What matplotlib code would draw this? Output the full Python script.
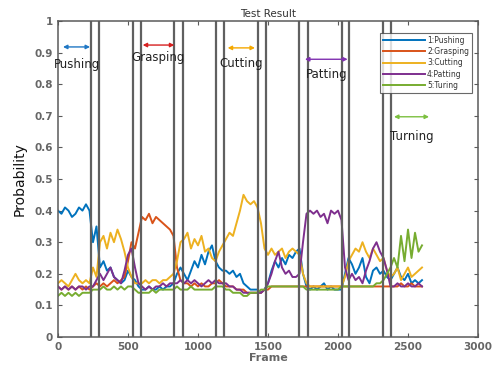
import matplotlib
matplotlib.use("Agg")
import matplotlib.pyplot as plt
import numpy as np

frame_step = 25
pushing = [0.40,0.39,0.41,0.40,0.38,0.39,0.41,0.40,0.42,0.40,
           0.30,0.35,
           0.22,0.24,0.21,0.22,0.19,0.18,0.17,0.18,0.21,0.19,
           0.18,0.16,
           0.15,0.15,0.16,0.15,0.15,0.16,0.15,0.16,0.16,
           0.17,0.20,0.22,
           0.20,0.18,0.21,0.24,0.22,0.26,0.23,0.27,0.29,
           0.24,0.22,0.21,
           0.21,0.20,0.21,0.19,0.20,0.17,0.16,0.15,0.15,0.15,
           0.14,0.15,
           0.17,0.21,0.24,0.22,0.25,0.23,0.26,0.25,0.27,
           0.28,0.20,0.16,
           0.15,0.16,0.15,0.16,0.17,0.15,0.16,0.15,0.15,
           0.15,0.20,0.25,
           0.23,0.20,0.22,0.25,0.19,0.17,0.21,0.22,0.20,
           0.21,0.19,0.18,
           0.20,0.22,0.19,0.18,0.20,0.17,0.18,0.17,0.18]
grasping = [0.16,0.15,0.16,0.15,0.16,0.15,0.16,0.15,0.16,0.15,
            0.16,0.17,
            0.16,0.17,0.16,0.17,0.18,0.17,0.18,0.19,0.24,0.30,
            0.28,0.33,
            0.38,0.37,0.39,0.36,0.38,0.37,0.36,0.35,0.34,
            0.32,0.22,0.18,
            0.17,0.17,0.16,0.17,0.16,0.17,0.16,0.16,0.17,
            0.17,0.18,0.17,
            0.16,0.16,0.16,0.15,0.15,0.15,0.14,0.14,0.14,0.14,
            0.14,0.15,
            0.15,0.16,0.16,0.16,0.16,0.16,0.16,0.16,0.16,
            0.16,0.16,0.16,
            0.16,0.16,0.16,0.16,0.16,0.16,0.16,0.16,0.16,
            0.16,0.16,0.16,
            0.16,0.16,0.16,0.16,0.16,0.16,0.16,0.16,0.16,
            0.16,0.16,0.16,
            0.16,0.16,0.17,0.16,0.16,0.17,0.16,0.16,0.16]
cutting = [0.17,0.18,0.17,0.16,0.18,0.20,0.18,0.17,0.18,0.17,
           0.22,0.19,
           0.30,0.32,0.28,0.33,0.30,0.34,0.31,0.27,0.22,0.19,
           0.17,0.17,
           0.17,0.18,0.17,0.18,0.18,0.17,0.18,0.18,0.19,
           0.20,0.24,0.30,
           0.31,0.33,0.28,0.31,0.29,0.32,0.27,0.28,0.25,
           0.24,0.27,0.29,
           0.31,0.33,0.32,0.36,0.40,0.45,0.43,0.42,0.43,0.41,
           0.36,0.28,
           0.26,0.28,0.26,0.27,0.28,0.25,0.27,0.28,0.27,
           0.26,0.20,0.17,
           0.16,0.16,0.16,0.16,0.16,0.16,0.16,0.16,0.16,
           0.16,0.19,0.24,
           0.26,0.28,0.27,0.30,0.27,0.25,0.28,0.26,0.24,
           0.25,0.21,0.19,
           0.20,0.22,0.18,0.20,0.22,0.19,0.20,0.21,0.22]
patting = [0.16,0.15,0.16,0.15,0.16,0.15,0.16,0.16,0.15,0.16,
           0.16,0.18,
           0.20,0.18,0.20,0.22,0.19,0.18,0.17,0.21,0.26,0.28,
           0.22,0.17,
           0.16,0.15,0.16,0.15,0.16,0.16,0.17,0.16,0.17,
           0.17,0.17,0.18,
           0.17,0.18,0.17,0.18,0.17,0.16,0.17,0.18,0.17,
           0.18,0.17,0.17,
           0.17,0.16,0.16,0.15,0.15,0.14,0.14,0.14,0.14,0.14,
           0.14,0.15,
           0.17,0.20,0.24,0.27,0.22,0.20,0.21,0.19,0.19,
           0.20,0.30,0.39,
           0.40,0.39,0.40,0.38,0.39,0.36,0.40,0.39,0.40,
           0.37,0.22,0.18,
           0.20,0.18,0.19,0.17,0.21,0.24,0.28,0.30,0.27,
           0.25,0.21,0.16,
           0.16,0.17,0.16,0.16,0.17,0.16,0.16,0.17,0.16]
turing = [0.13,0.14,0.13,0.14,0.13,0.14,0.13,0.14,0.14,0.14,
          0.15,0.15,
          0.15,0.16,0.15,0.15,0.16,0.15,0.16,0.15,0.16,0.16,
          0.15,0.14,
          0.14,0.14,0.14,0.15,0.14,0.15,0.15,0.15,0.15,
          0.15,0.16,0.15,
          0.15,0.15,0.16,0.15,0.15,0.15,0.15,0.15,0.15,
          0.16,0.16,0.16,
          0.15,0.15,0.14,0.14,0.14,0.13,0.13,0.14,0.14,0.14,
          0.15,0.15,
          0.16,0.16,0.16,0.16,0.16,0.16,0.16,0.16,0.16,
          0.16,0.16,0.15,
          0.15,0.15,0.15,0.15,0.15,0.15,0.15,0.15,0.15,
          0.16,0.16,0.16,
          0.16,0.16,0.16,0.16,0.16,0.16,0.16,0.17,0.17,
          0.18,0.20,0.22,
          0.25,0.22,0.32,0.24,0.34,0.25,0.33,0.27,0.29]

series_names = ["1:Pushing", "2:Grasping", "3:Cutting", "4:Patting", "5:Turing"]
series_colors = ["#0072BD", "#D95319", "#EDB120", "#7E2F8E", "#77AC30"]
boundaries = [236, 295, 534, 593, 831, 890, 1129, 1186,
              1431, 1486, 1724, 1783, 2026, 2081, 2319, 2379]
ann_labels = ["Pushing", "Grasping", "Cutting", "Patting", "Turning"]
ann_start = [36, 605, 1212, 1764, 2400]
ann_end = [229, 831, 1407, 2069, 2650]
ann_y = [0.918, 0.924, 0.915, 0.879, 0.697]
ann_text_y = [0.861, 0.886, 0.867, 0.832, 0.636]
ann_colors = ["#1f77c4", "#d62020", "#f5a800", "#8030b0", "#7cc040"]

gray = "#5a5a5a"
fig = plt.figure(figsize=(4.93, 3.69), dpi=100)
ax = fig.add_axes([0.1176, 0.0867, 0.852, 0.8563])

data = [pushing, grasping, cutting, patting, turing]
x = np.arange(len(pushing)) * frame_step
for vals, name, c in zip(data, series_names, series_colors):
    ax.plot(x, vals, color=c, lw=1.4, label=name)

for b in boundaries:
    ax.axvline(b, color="#606060", lw=1.6)

for lab, s, e, y, ty, c in zip(ann_labels, ann_start, ann_end, ann_y, ann_text_y, ann_colors):
    ax.annotate("", xy=(e, y), xytext=(s, y),
                arrowprops=dict(arrowstyle="<|-|>", color=c, lw=1.0,
                                mutation_scale=6, shrinkA=0, shrinkB=0))
    ax.text((s + e) / 2, ty, lab, ha="center", va="center", fontsize=8.5,
            color="#222222")

ax.set_xlim(0, 3000)
ax.set_ylim(0, 1)
ax.set_xticks(np.arange(0, 3001, 500))
ax.set_yticks(np.round(np.arange(0, 1.01, 0.1), 1))
ax.set_yticklabels(["0", "0.1", "0.2", "0.3", "0.4", "0.5", "0.6", "0.7", "0.8", "0.9", "1"])
ax.tick_params(direction="in", top=True, right=True, length=3, width=0.8,
               colors=gray, labelsize=7.5, labelcolor="#666666")
for t in ax.get_xticklabels() + ax.get_yticklabels():
    t.set_fontweight("bold")
for sp in ax.spines.values():
    sp.set_color(gray)
    sp.set_linewidth(1.1)

ax.set_title("Test Result", fontsize=7.5, color="#333333", pad=3)
ax.set_xlabel("Frame", fontsize=8, color="#666666", labelpad=1, fontweight="bold")
ax.set_ylabel("Probability", fontsize=10, color="#111111", labelpad=6)

leg = ax.legend(loc="upper right", fontsize=5.5, frameon=True, fancybox=False,
                edgecolor="#444444", borderpad=0.4, labelspacing=0.3,
                handlelength=5.5, handletextpad=0.3,
                bbox_to_anchor=(0.995, 0.975))
leg.get_frame().set_linewidth(0.8)
for t in leg.get_texts():
    t.set_color("#333333")

fig.savefig("out.png", dpi=100)
